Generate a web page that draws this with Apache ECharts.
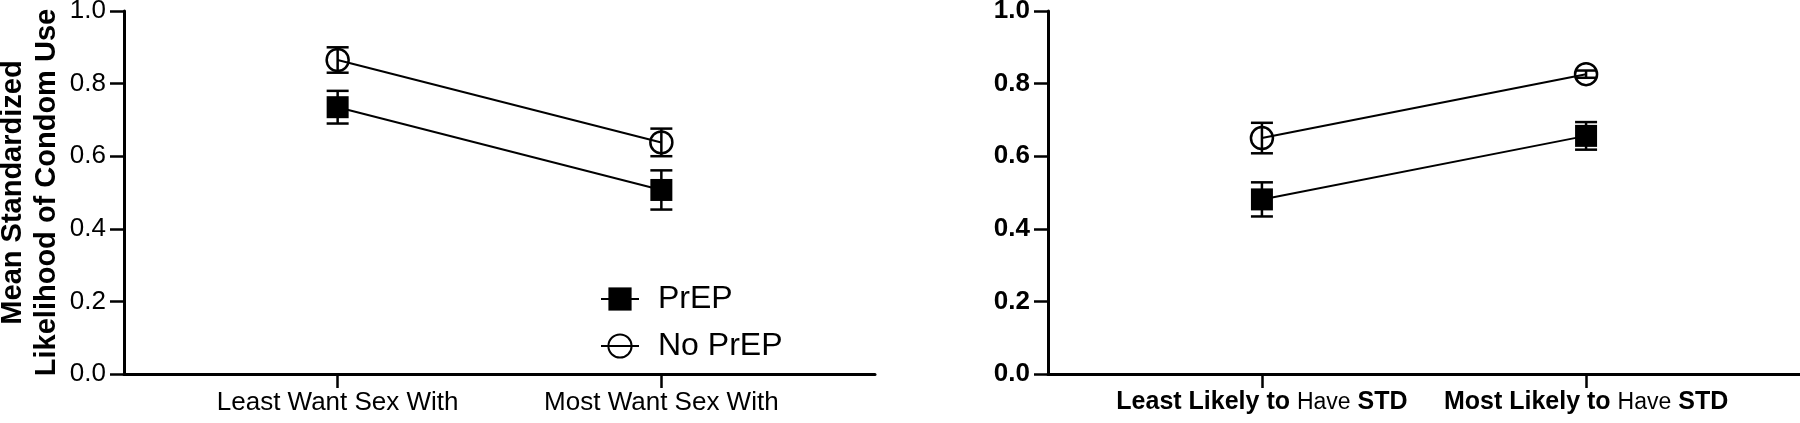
<!DOCTYPE html>
<html>
<head>
<meta charset="utf-8">
<script src="https://cdn.jsdelivr.net/npm/echarts@6/dist/echarts.min.js"></script>
<style>
  html, body { margin: 0; padding: 0; background: #fff; }
  #main { width: 1800px; height: 423px; }
</style>
</head>
<body>
<div id="main"></div>
<script>
var FONT = "'Liberation Sans', Arial, Helvetica, sans-serif";

// left panel: desire
var wantLabels = ['Least Want Sex With', 'Most Want Sex With'];
var prepWant = [0.735, 0.507];
var prepWantErr = [0.045, 0.054];
var noPrepWant = [0.865, 0.638];
var noPrepWantErr = [0.035, 0.038];

// right panel: perceived STD risk
var stdLabels = ['Least Likely to Have STD', 'Most Likely to Have STD'];
var prepStd = [0.481, 0.656];
var prepStdErr = [0.047, 0.038];
var noPrepStd = [0.650, 0.826];
var noPrepStdErr = [0.042, 0.010];

var xPos = [1, 2];

function pts(vals) {
    return vals.map(function (v, i) { return [xPos[i], v]; });
}
function errs(vals, e) {
    return vals.map(function (v, i) { return [xPos[i], v - e[i], v + e[i]]; });
}

function renderErr(params, api) {
    var x = api.value(0);
    var top = api.coord([x, api.value(2)]);
    var bot = api.coord([x, api.value(1)]);
    var w = 11;
    var st = { stroke: '#000', lineWidth: 2.5 };
    return {
        type: 'group',
        children: [
            { type: 'line', shape: { x1: top[0], y1: top[1], x2: bot[0], y2: bot[1] }, style: st },
            { type: 'line', shape: { x1: top[0] - w, y1: top[1], x2: top[0] + w, y2: top[1] }, style: st },
            { type: 'line', shape: { x1: bot[0] - w, y1: bot[1], x2: bot[0] + w, y2: bot[1] }, style: st }
        ]
    };
}

function xAxisFor(idx, labels, rich) {
    var lbl = {
        customValues: xPos,
        margin: 16,
        color: '#000',
        fontFamily: FONT,
        fontSize: 26,
        formatter: function (v) {
            var s = labels[Math.round(v) - 1] || '';
            if (rich) {
                return s.replace(/^(.*) Have (STD)$/, '{b|$1} {r|Have} {b|$2}');
            }
            return s;
        }
    };
    if (rich) {
        lbl.fontSize = 25;
        lbl.fontWeight = 'bold';
        lbl.rich = {
            b: { fontFamily: FONT, fontSize: 25, fontWeight: 'bold', color: '#000' },
            r: { fontFamily: FONT, fontSize: 23, fontWeight: 'normal', color: '#000' }
        };
    }
    return {
        type: 'value',
        gridIndex: idx,
        min: 0.34,
        max: 2.66,
        splitLine: { show: false },
        axisLine: { show: true, onZero: false, lineStyle: { color: '#000', width: 3 } },
        axisTick: { show: true, customValues: xPos, length: 14, lineStyle: { color: '#000', width: 2.5 } },
        axisLabel: lbl
    };
}

function yAxisFor(idx, bold) {
    return {
        type: 'value',
        gridIndex: idx,
        min: 0,
        max: 1,
        interval: 0.2,
        splitLine: { show: false },
        axisLine: { show: true, lineStyle: { color: '#000', width: 3 } },
        axisTick: { show: true, length: 14, lineStyle: { color: '#000', width: 2.5 } },
        axisLabel: {
            margin: 18,
            color: '#000',
            fontFamily: FONT,
            fontSize: 26,
            fontWeight: bold ? 'bold' : 'normal',
            formatter: function (v) { return v.toFixed(1); }
        }
    };
}

function lineSeries(name, idx, data, hollow) {
    return {
        name: name,
        type: 'line',
        xAxisIndex: idx,
        yAxisIndex: idx,
        data: data,
        symbol: hollow ? 'circle' : 'rect',
        symbolSize: 22,
        z: 3,
        lineStyle: { color: '#000', width: 2 },
        itemStyle: hollow
            ? { color: 'rgba(255,255,255,0)', borderColor: '#000', borderWidth: 2.5 }
            : { color: '#000', borderColor: '#000', borderWidth: 0 },
        emphasis: { disabled: true },
        animation: false
    };
}

function errSeries(idx, data) {
    return {
        type: 'custom',
        xAxisIndex: idx,
        yAxisIndex: idx,
        data: data,
        renderItem: renderErr,
        encode: { x: 0, y: [1, 2] },
        z: 2,
        silent: true,
        animation: false
    };
}

var yLeft = yAxisFor(0, false);
yLeft.name = 'Mean Standardized\nLikelihood of Condom Use';
yLeft.nameLocation = 'middle';
yLeft.nameRotate = 90;
yLeft.nameGap = 60;
yLeft.nameTextStyle = { color: '#000', fontFamily: FONT, fontSize: 29, fontWeight: 'bold', lineHeight: 34 };

var chart = echarts.init(document.getElementById('main'));
chart.setOption({
    backgroundColor: '#fff',
    animation: false,
    grid: [
        { left: 124, width: 751, top: 11, bottom: 49, containLabel: false, outerBoundsMode: 'none' },
        { left: 1048, width: 752, top: 11, bottom: 49, containLabel: false, outerBoundsMode: 'none' }
    ],
    legend: {
        orient: 'vertical',
        left: 595,
        top: 278,
        itemWidth: 38,
        itemHeight: 29,
        itemGap: 15,
        data: ['PrEP', 'No PrEP'],
        textStyle: { color: '#000', fontFamily: FONT, fontSize: 32, padding: [0, 0, 0, 14] },
        selectedMode: false
    },
    xAxis: [xAxisFor(0, wantLabels, false), xAxisFor(1, stdLabels, true)],
    yAxis: [yLeft, yAxisFor(1, true)],
    series: [
        errSeries(0, errs(prepWant, prepWantErr)),
        errSeries(0, errs(noPrepWant, noPrepWantErr)),
        lineSeries('PrEP', 0, pts(prepWant), false),
        lineSeries('No PrEP', 0, pts(noPrepWant), true),
        errSeries(1, errs(prepStd, prepStdErr)),
        errSeries(1, errs(noPrepStd, noPrepStdErr)),
        lineSeries('PrEP', 1, pts(prepStd), false),
        lineSeries('No PrEP', 1, pts(noPrepStd), true)
    ]
});
</script>
</body>
</html>
